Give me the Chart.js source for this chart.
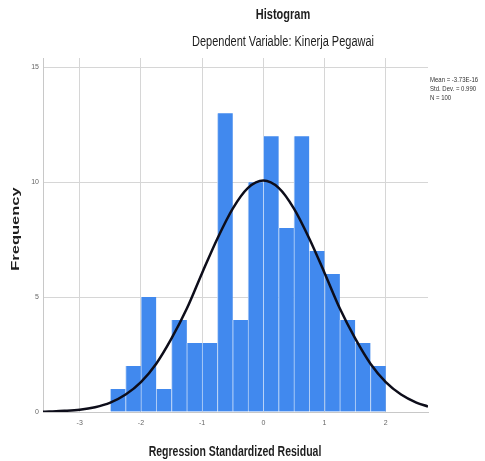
<!DOCTYPE html>
<html>
<head>
<meta charset="utf-8">
<script src="https://cdn.jsdelivr.net/npm/chart.js@4.4.1/dist/chart.umd.min.js"></script>
<style>
  html, body { margin: 0; padding: 0; background: #fff; }
  #wrap { width: 485px; height: 461px; }
</style>
</head>
<body>
<div id="wrap"><canvas id="histChart" width="485" height="461"></canvas></div>
<script>
// bin centres (width 0.25) and counts
const binCenters = [-2.375, -2.125, -1.875, -1.625, -1.375, -1.125, -0.875, -0.625, -0.375,
  -0.125, 0.125, 0.375, 0.625, 0.875, 1.125, 1.375, 1.625, 1.875];
const counts = [1, 2, 5, 1, 4, 3, 3, 13, 4, 10, 12, 8, 12, 7, 6, 4, 3, 2];

// normal curve
const curveX = [-3.6, -3.5, -3.25, -3, -2.75, -2.5, -2.25, -2, -1.75, -1.5, -1.25, -1, -0.75, -0.5, -0.25,
  0, 0.25, 0.5, 0.75, 1, 1.25, 1.5, 1.75, 2, 2.25, 2.5, 2.69];
const curveY = [0.01, 0.02, 0.05, 0.1, 0.21, 0.41, 0.76, 1.3, 2.1, 3.2, 4.5, 6.05, 7.55, 8.85, 9.75,
  10.07, 9.75, 8.85, 7.55, 6.05, 4.5, 3.2, 2.1, 1.3, 0.76, 0.41, 0.24];

const xTicks = [-3, -2, -1, 0, 1, 2];
const yTicks = [0, 5, 10, 15];
const legendLines = ['Mean = -3.73E-16', 'Std. Dev. = 0.990', 'N = 100'];

const FONT = '"Liberation Sans", Arial, sans-serif';

const textPlugin = {
  id: 'spssText',
  afterDraw(chart) {
    const ctx = chart.ctx;
    ctx.save();
    ctx.fillStyle = '#1e1e1e';
    ctx.textAlign = 'center';
    ctx.textBaseline = 'middle';

    const stretched = (txt, x, y, font) => {
      ctx.save();
      ctx.translate(x, y);
      ctx.scale(1, 1.4);
      ctx.font = font;
      ctx.fillText(txt, 0, 0);
      ctx.restore();
    };

    stretched('Histogram', 283, 15, 'bold 11px ' + FONT);
    stretched('Dependent Variable: Kinerja Pegawai', 283, 42, '11px ' + FONT);
    stretched('Regression Standardized Residual', 235, 452, 'bold 10.5px ' + FONT);

    ctx.save();
    ctx.translate(16, 229);
    ctx.rotate(-Math.PI / 2);
    ctx.scale(1.5, 1);
    ctx.font = 'bold 11px ' + FONT;
    ctx.fillText('Frequency', 0, 0);
    ctx.restore();

    ctx.textAlign = 'left';
    ctx.fillStyle = '#333';
    legendLines.forEach((line, i) => {
      ctx.save();
      ctx.translate(430, 80 + i * 9);
      ctx.scale(1, 1.35);
      ctx.font = '6px ' + FONT;
      ctx.fillText(line, 0, 0);
      ctx.restore();
    });
    ctx.restore();
  }
};

new Chart(document.getElementById('histChart'), {
  type: 'bar',
  data: {
    datasets: [
      {
        type: 'line',
        data: curveX.map((x, i) => ({ x, y: curveY[i] })),
        borderColor: '#0d0d1a',
        borderWidth: 2.5,
        pointRadius: 0,
        tension: 0.4,
        cubicInterpolationMode: 'monotone',
        fill: false,
        order: 0
      },
      {
        type: 'bar',
        data: binCenters.map((x, i) => ({ x, y: counts[i] })),
        backgroundColor: '#4189ee',
        borderColor: '#b9d3f7',
        borderWidth: { left: 1, right: 0, top: 0, bottom: 0 },
        borderSkipped: false,
        barPercentage: 1,
        categoryPercentage: 1,
        order: 1
      }
    ]
  },
  options: {
    responsive: false,
    animation: false,
    devicePixelRatio: 1,
    layout: { padding: { top: 58, right: 57, left: 0, bottom: 0 } },
    plugins: {
      legend: { display: false },
      tooltip: { enabled: false }
    },
    scales: {
      x: {
        type: 'linear',
        offset: false,
        min: -3.6,
        max: 2.69,
        afterFit(scale) { scale.height = 49; },
        afterBuildTicks(scale) { scale.ticks = xTicks.map((v) => ({ value: v })); },
        grid: { color: '#d6d6d6', drawTicks: false, lineWidth: 1, offset: false },
        border: { color: '#c8c8c8' },
        ticks: {
          color: '#666',
          padding: 7,
          font: { family: FONT, size: 7 },
          callback(value) { return String(value); }
        }
      },
      y: {
        min: 0,
        max: 15.4,
        afterFit(scale) { scale.width = 43; },
        afterBuildTicks(scale) { scale.ticks = yTicks.map((v) => ({ value: v })); },
        grid: { color: '#d6d6d6', drawTicks: false, lineWidth: 1 },
        border: { color: '#c8c8c8' },
        ticks: {
          color: '#666',
          padding: 4,
          font: { family: FONT, size: 7 }
        }
      }
    }
  },
  plugins: [textPlugin]
});
</script>
</body>
</html>
